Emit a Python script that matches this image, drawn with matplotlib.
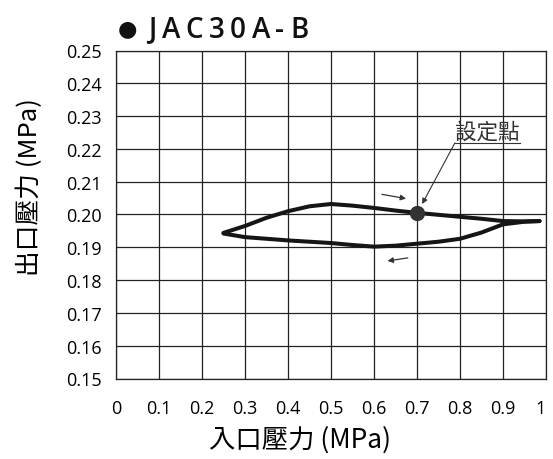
import matplotlib.pyplot as plt
import numpy as np

plt.rcParams['font.family'] = ['Noto Sans CJK TC', 'DejaVu Sans']

# upper branch (pressure rising)
up_x = [0.25, 0.30, 0.35, 0.40, 0.45, 0.50, 0.55, 0.60, 0.65, 0.70, 0.75, 0.80, 0.85, 0.90, 0.95, 0.985]
up_y = [0.1944, 0.1965, 0.1990, 0.2010, 0.2025, 0.2032, 0.2027, 0.2020, 0.2012, 0.2005, 0.1999, 0.1993, 0.1987, 0.1980, 0.1979, 0.1980]
# lower branch (pressure falling)
dn_x = [0.25, 0.30, 0.35, 0.40, 0.45, 0.50, 0.55, 0.60, 0.65, 0.70, 0.75, 0.80, 0.85, 0.90, 0.95, 0.985]
dn_y = [0.1942, 0.1931, 0.1926, 0.1921, 0.1917, 0.1913, 0.1907, 0.1902, 0.1905, 0.1911, 0.1917, 0.1926, 0.1945, 0.1970, 0.1978, 0.1980]

set_point = (0.70, 0.2005)
x_ticks = [0, 0.1, 0.2, 0.3, 0.4, 0.5, 0.6, 0.7, 0.8, 0.9, 1]
x_labels = ["0", "0.1", "0.2", "0.3", "0.4", "0.5", "0.6", "0.7", "0.8", "0.9", "1"]
y_ticks = np.round(np.arange(0.15, 0.2501, 0.01), 2)
title = "JAC30A-B"

fig = plt.figure(figsize=(5.53, 4.60), dpi=100)
ax = fig.add_axes([116 / 553, 1 - 379.5 / 460, 430 / 553, 328 / 460])

ax.plot(up_x, up_y, color="#151515", lw=2.9, solid_capstyle="round")
ax.plot(dn_x, dn_y, color="#151515", lw=2.9, solid_capstyle="round")
ax.plot(*set_point, "o", color="#333333", ms=10, zorder=5)

ax.set_xlim(0, 1)
ax.set_ylim(0.15, 0.25)
ax.set_xticks(x_ticks)
ax.set_xticklabels(x_labels)
ax.set_yticks(y_ticks)
ax.set_yticklabels(["%.2f" % v for v in y_ticks])
ax.tick_params(length=0, labelsize=13, pad=10)
ax.tick_params(axis="x", pad=15)
for lab in ax.get_xticklabels() + ax.get_yticklabels():
    lab.set_family(["Open Sans"])
ax.get_xticklabels()[-1].set_horizontalalignment("right")
ax.grid(True, color="#222222", lw=0.9)
for s in ax.spines.values():
    s.set_color("#222222")
    s.set_linewidth(0.9)

# direction arrows
arr = dict(arrowstyle="-|>", color="#333333", lw=0.9, mutation_scale=8)
ax.annotate("", xy=(0.681, 0.2047), xytext=(0.612, 0.2063), arrowprops=arr)
ax.annotate("", xy=(0.625, 0.1857), xytext=(0.685, 0.1869), arrowprops=arr)

# set point label
ax.text(0.789, 0.2252, "設定點", fontsize=15.5, color="#333333", va="center", ha="left")
ax.plot([0.788, 0.94], [0.2218, 0.2218], color="#333333", lw=0.8)
ax.annotate("", xy=(0.712, 0.2032), xytext=(0.788, 0.2218),
            arrowprops=dict(arrowstyle="-|>", color="#333333", lw=0.8, mutation_scale=8,
                            shrinkA=0, shrinkB=0))

fig.text(300 / 553, 1 - 440 / 460, "入口壓力 (MPa)", fontsize=19, ha="center", va="center")
fig.text(29.5 / 553, 1 - 187 / 460, "出口壓力 (MPa)", fontsize=18.5, ha="center", va="center",
         rotation=90)

# title: bullet plus letter-spaced text
fig.text(127 / 553, 1 - 29 / 460, "●", fontsize=16, ha="center", va="center",
         family=["DejaVu Sans"], color="#111111")
renderer = fig.canvas.get_renderer()
x = 148
for ch in title:
    t = fig.text(x / 553, 1 - 30 / 460, ch, fontsize=20, ha="left", va="center",
                 family=["Open Sans"], fontweight="semibold", color="#111111")
    w = t.get_window_extent(renderer=renderer).width
    x += w + 5.5

fig.savefig("out.png", dpi=100)
